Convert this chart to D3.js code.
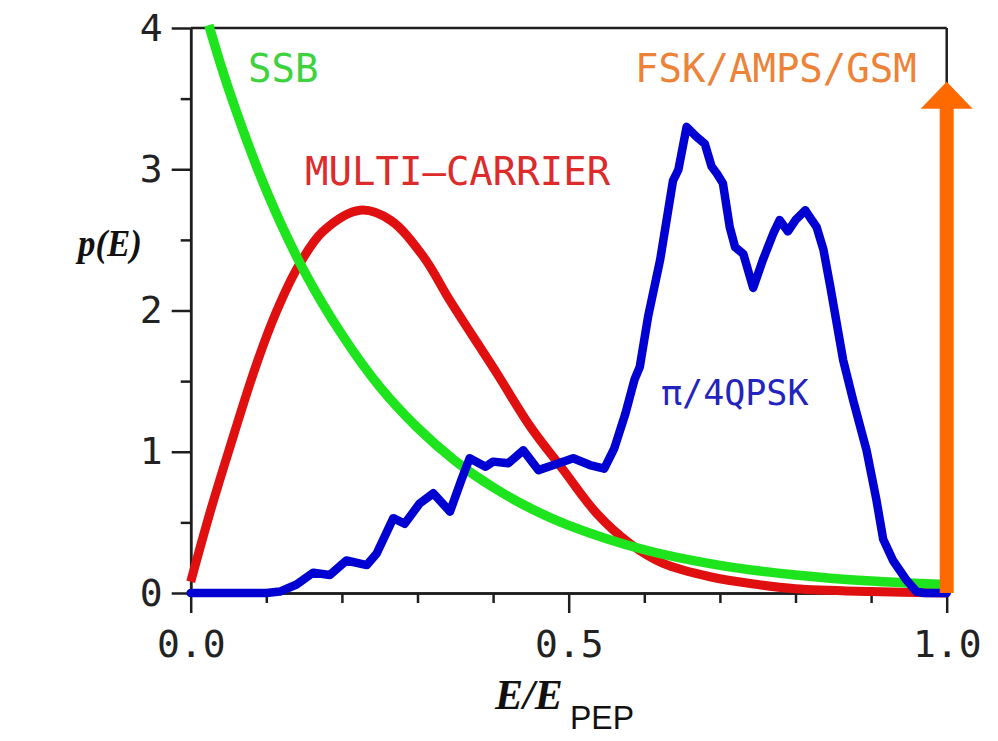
<!DOCTYPE html>
<html>
<head>
<meta charset="utf-8">
<script src="https://cdn.jsdelivr.net/npm/d3@7"></script>
<style>
  body { margin: 0; background: #fff; }
  svg { display: block; }
</style>
</head>
<body>
<div class="chart"></div>
<script>
// values
var ssbX = [0.024, 0.05, 0.1, 0.15, 0.2, 0.25, 0.3, 0.35, 0.4, 0.45, 0.5, 0.6, 0.7, 0.8, 0.9, 1.0];
var ssbY = [4.02, 3.57, 2.85, 2.28, 1.83, 1.46, 1.17, 0.935, 0.748, 0.598, 0.479, 0.306, 0.196, 0.128, 0.085, 0.06];

var multiX = [0, 0.025, 0.05, 0.087, 0.114, 0.142, 0.175, 0.224, 0.264, 0.308, 0.343, 0.405, 0.449, 0.493, 0.537, 0.581, 0.625, 0.687, 0.75, 0.8, 0.9, 1.0];
var multiY = [0.08, 0.56, 1.0, 1.62, 2.0, 2.31, 2.56, 2.71, 2.64, 2.38, 2.07, 1.555, 1.18, 0.87, 0.564, 0.35, 0.21, 0.115, 0.06, 0.03, 0.01, 0.0];

var qpskX = [0, 0.1, 0.118, 0.14, 0.162, 0.184, 0.206, 0.233, 0.246, 0.268, 0.283, 0.303, 0.321, 0.343, 0.358, 0.369,
  0.39, 0.40, 0.42, 0.44, 0.46, 0.48, 0.506, 0.528, 0.547, 0.56, 0.575, 0.587, 0.594, 0.605, 0.621, 0.638, 0.645,
  0.656, 0.669, 0.68, 0.689, 0.696, 0.704, 0.713, 0.72, 0.731, 0.744, 0.757, 0.771, 0.779, 0.79, 0.80, 0.813,
  0.819, 0.828, 0.837, 0.846, 0.863, 0.876, 0.894, 0.907, 0.916, 0.929, 0.947, 0.96, 0.97, 1.0];
var qpskY = [0, 0, 0.01, 0.06, 0.144, 0.127, 0.23, 0.198, 0.28, 0.53, 0.49, 0.635, 0.706, 0.576, 0.80, 0.954,
  0.894, 0.93, 0.918, 1.01, 0.87, 0.906, 0.954, 0.906, 0.88, 1.02, 1.27, 1.51, 1.60, 1.956, 2.36, 2.92, 2.995,
  3.30, 3.23, 3.18, 3.02, 2.97, 2.90, 2.59, 2.45, 2.40, 2.16, 2.36, 2.55, 2.64, 2.56, 2.64, 2.71,
  2.66, 2.59, 2.43, 2.17, 1.65, 1.37, 1.01, 0.66, 0.38, 0.23, 0.09, 0.01, 0, 0];

// FSK/AMPS/GSM: a delta at E/E_PEP = 1
var fskX = 1.0;
var fskTop = 3.62;

var yTicks = [0, 1, 2, 3, 4];
var yMinor = [0.5, 1.5, 2.5, 3.5];
var xTicks = [0, 0.5, 1.0];
var xTickLabels = ["0.0", "0.5", "1.0"];
var xMinor = [0.1, 0.2, 0.3, 0.4, 0.6, 0.7, 0.8, 0.9];

var svgWidth = 998;
var svgHeight = 741;

var svg = d3.select(".chart")
  .append("svg")
  .attr("width", svgWidth)
  .attr("height", svgHeight);

var x = d3.scaleLinear().domain([0, 1]).range([190.7, 946.7]);
var y = d3.scaleLinear().domain([0, 4]).range([593, 28]);

var axisColor = "#1e1e1e";
var mono = "'DejaVu Sans Mono', monospace";

// frame: top and right
svg.append("line")
  .attr("x1", x(0)).attr("x2", x(1))
  .attr("y1", y(4)).attr("y2", y(4))
  .attr("stroke", axisColor).attr("stroke-width", 2.5);
svg.append("line")
  .attr("x1", x(1)).attr("x2", x(1))
  .attr("y1", y(4)).attr("y2", y(0))
  .attr("stroke", axisColor).attr("stroke-width", 2.5);

// y axis
svg.append("g")
  .attr("transform", "translate(" + x(0) + ",0)")
  .call(d3.axisLeft(y).tickValues(yTicks).tickSize(19).tickSizeOuter(0).tickPadding(9).tickFormat(d3.format("d")));
svg.append("g")
  .attr("transform", "translate(" + x(0) + ",0)")
  .call(d3.axisLeft(y).tickValues(yMinor).tickSize(10).tickSizeOuter(0).tickFormat(""));

// x axis
svg.append("g")
  .attr("transform", "translate(0," + y(0) + ")")
  .call(d3.axisBottom(x).tickValues(xTicks).tickSize(20).tickSizeOuter(0).tickPadding(17)
    .tickFormat(function(d, i) { return xTickLabels[i]; }));
svg.append("g")
  .attr("transform", "translate(0," + y(0) + ")")
  .call(d3.axisBottom(x).tickValues(xMinor).tickSize(10).tickSizeOuter(0).tickFormat(""));

svg.selectAll(".domain, .tick line")
  .attr("stroke", axisColor)
  .attr("stroke-width", 2.5);
svg.selectAll(".tick text")
  .attr("fill", "#222")
  .style("font-family", mono)
  .style("font-size", "38px");

// curves
function pts(xs, ys) {
  return xs.map(function(d, i) { return [d, ys[i]]; });
}

var smooth = d3.line()
  .x(function(d) { return x(d[0]); })
  .y(function(d) { return y(d[1]); })
  .curve(d3.curveCatmullRom.alpha(0.5));

var jagged = d3.line()
  .x(function(d) { return x(d[0]); })
  .y(function(d) { return y(d[1]); });

svg.append("path")
  .attr("d", smooth(pts(multiX, multiY)))
  .attr("fill", "none")
  .attr("stroke", "#e01010")
  .attr("stroke-width", 9);

svg.append("path")
  .attr("d", smooth(pts(ssbX, ssbY)))
  .attr("fill", "none")
  .attr("stroke", "#1ee41e")
  .attr("stroke-width", 9.5);

svg.append("path")
  .attr("d", jagged(pts(qpskX, qpskY)))
  .attr("fill", "none")
  .attr("stroke", "#0000d2")
  .attr("stroke-width", 8.5)
  .attr("stroke-linejoin", "round")
  .attr("stroke-linecap", "round");

// orange arrow
var headH = 27, headW = 52;
svg.append("line")
  .attr("x1", x(fskX)).attr("x2", x(fskX))
  .attr("y1", y(0)).attr("y2", y(fskTop) + headH - 2)
  .attr("stroke", "#ff6a00")
  .attr("stroke-width", 14);
svg.append("path")
  .attr("d", "M" + x(fskX) + "," + y(fskTop) +
    "L" + (x(fskX) + headW / 2) + "," + (y(fskTop) + headH) +
    "L" + (x(fskX) - headW / 2) + "," + (y(fskTop) + headH) + "Z")
  .attr("fill", "#ff6a00");

// series labels
function label(txt, px, py, color, size) {
  return svg.append("text")
    .attr("x", px).attr("y", py)
    .attr("fill", color)
    .style("font-family", mono)
    .style("font-size", size + "px")
    .text(txt);
}
label("SSB", 248, 82, "#3fd23f", 39);
label("MULTI\u2013CARRIER", 305, 185, "#dd2a2a", 39);
label("FSK/AMPS/GSM", 635, 82, "#ec8339", 39);
label("\u03c0/4QPSK", 661, 405, "#2323c0", 35);

// axis titles
svg.append("text")
  .attr("x", 78).attr("y", 256)
  .style("font-family", "'Liberation Serif', serif")
  .style("font-style", "italic")
  .style("font-weight", "bold")
  .style("font-size", "38px")
  .attr("textLength", 64)
  .attr("lengthAdjust", "spacingAndGlyphs")
  .attr("fill", "#111")
  .text("p(E)");

var xt = svg.append("text")
  .attr("x", 495).attr("y", 709)
  .attr("fill", "#111");
xt.append("tspan")
  .style("font-family", "'Liberation Serif', serif")
  .style("font-style", "italic")
  .style("font-weight", "bold")
  .style("font-size", "42px")
  .text("E/E");
xt.append("tspan")
  .attr("x", 570).attr("y", 729)
  .style("font-family", "'Liberation Sans', sans-serif")
  .style("font-size", "34px")
  .attr("textLength", 64)
  .attr("lengthAdjust", "spacingAndGlyphs")
  .text("PEP");
</script>
</body>
</html>
